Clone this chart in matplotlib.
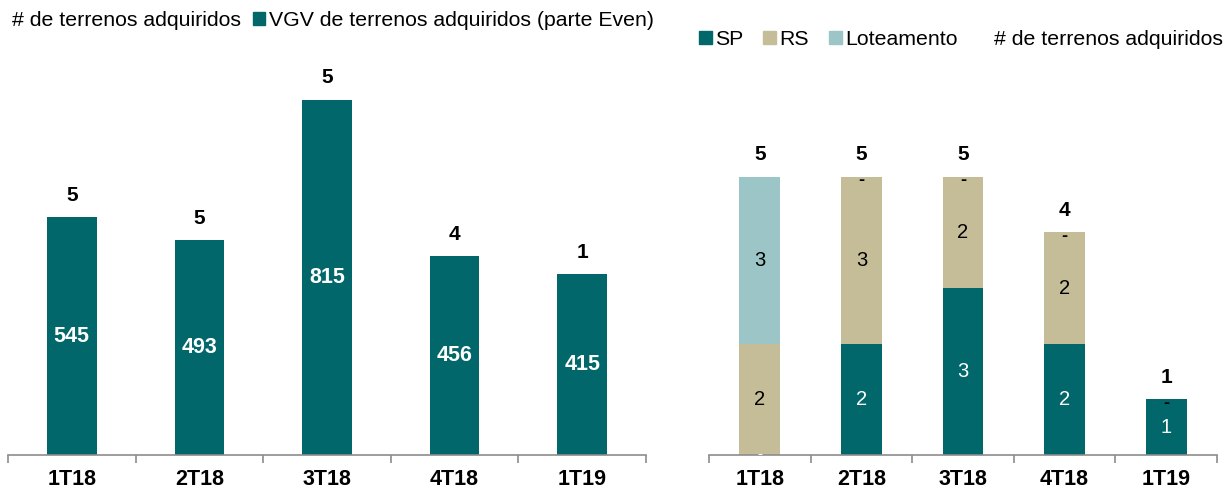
import numpy as np
import matplotlib.pyplot as plt
from matplotlib.patches import Patch
from matplotlib.lines import Line2D

plt.rcParams['font.family'] = ['Liberation Sans', 'DejaVu Sans']

quarters = ["1T18", "2T18", "3T18", "4T18", "1T19"]
vgv = [545, 493, 815, 456, 415]
n_terrenos = [5, 5, 5, 4, 1]
sp = [0, 2, 3, 2, 1]
rs = [2, 3, 2, 2, 0]
lote = [3, 0, 0, 0, 0]

teal = "#02676A"
tan = "#C5BD98"
light = "#9BC5C6"
gray = "#8C8C8C"

fig = plt.figure(figsize=(12.27, 4.88), dpi=100)
ax1 = fig.add_axes([8/1227, 33/488, 638/1227, 415/488])
ax2 = fig.add_axes([709/1227, 33/488, 508/1227, 415/488])

x = np.arange(len(quarters))


def style(ax):
    for s in ["top", "right", "left"]:
        ax.spines[s].set_visible(False)
    ax.spines["bottom"].set_color(gray)
    ax.spines["bottom"].set_linewidth(1.2)
    ax.set_yticks([])
    ax.set_xlim(-0.5, len(quarters) - 0.5)
    ax.set_xticks(x)
    ax.set_xticklabels(quarters, fontsize=15.5, fontweight="bold")
    ax.set_xticks(np.arange(len(quarters) + 1) - 0.5, minor=True)
    ax.tick_params(axis="x", which="major", length=0, pad=10)
    ax.tick_params(axis="x", which="minor", length=6, color=gray, width=1.2)


# left chart
ax1.bar(x, vgv, width=0.39, color=teal)
ax1.set_ylim(0, 952)
for xi, v, n in zip(x, vgv, n_terrenos):
    ax1.text(xi, v / 2, str(v), ha="center", va="center", color="white",
             fontsize=15.5, fontweight="bold")
    ax1.text(xi, v + 50, str(n), ha="center", va="center", color="black",
             fontsize=15, fontweight="bold")
style(ax1)

# right chart
w = 0.4
ax2.bar(x, sp, width=w, color=teal)
ax2.bar(x, rs, width=w, bottom=sp, color=tan)
bottom2 = np.array(sp) + np.array(rs)
ax2.bar(x, lote, width=w, bottom=bottom2, color=light)
ax2.set_ylim(0, 7.46)
total = bottom2 + np.array(lote)
for i, xi in enumerate(x):
    if sp[i] > 0:
        ax2.text(xi, sp[i] / 2, str(sp[i]), ha="center", va="center",
                 color="white", fontsize=14.5)
    else:
        ax2.text(xi, 0.02, "-", ha="center", va="center", color="white",
                 fontsize=11)
    if rs[i] > 0:
        ax2.text(xi, sp[i] + rs[i] / 2, str(rs[i]), ha="center", va="center",
                 color="black", fontsize=14.5)
    if lote[i] > 0:
        ax2.text(xi, bottom2[i] + lote[i] / 2, str(lote[i]), ha="center",
                 va="center", color="black", fontsize=14.5)
    else:
        ax2.text(xi, total[i] - 0.07, "-", ha="center", va="center",
                 color="black", fontsize=13, fontweight="bold")
    ax2.text(xi, total[i] + 0.4, str(n_terrenos[i]), ha="center", va="center",
             color="black", fontsize=15, fontweight="bold")
style(ax2)

# legends
leg_kw = dict(loc="upper left", frameon=False, fontsize=15.3, handlelength=0.6,
              handleheight=0.6, handletextpad=0.15, borderpad=0, borderaxespad=0)
h_left = [Line2D([], [], linestyle="none"), Patch(color=teal)]
fig.legend(h_left, ["# de terrenos adquiridos", "VGV de terrenos adquiridos (parte Even)"],
           bbox_to_anchor=(-4/1227, 1 - 11/488), ncol=2, columnspacing=0.55, **leg_kw)
h_right = [Patch(color=teal), Patch(color=tan), Patch(color=light),
           Line2D([], [], linestyle="none")]
fig.legend(h_right, ["SP", "RS", "Loteamento", "# de terrenos adquiridos"],
           bbox_to_anchor=(699/1227, 1 - 30/488), ncol=4, columnspacing=0.95, **leg_kw)

fig.savefig("out.png", dpi=100)
